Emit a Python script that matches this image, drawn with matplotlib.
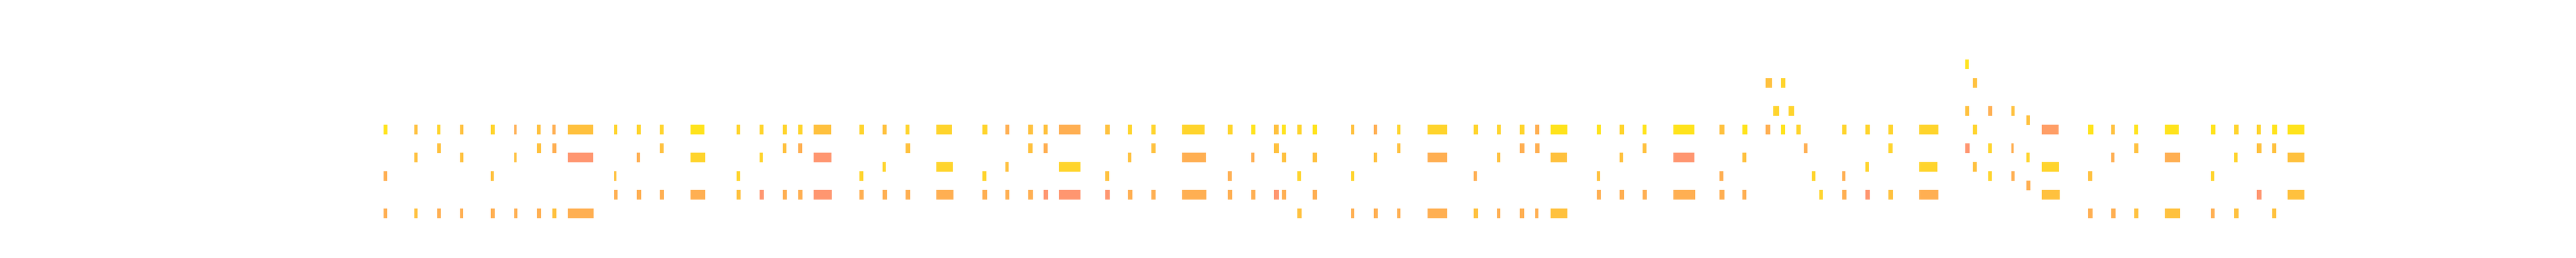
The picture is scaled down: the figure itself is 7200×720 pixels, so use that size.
import matplotlib
matplotlib.use("Agg")
import matplotlib.pyplot as plt
from matplotlib.colors import LinearSegmentedColormap, Normalize

# Piano-roll data: onset (in 16th-note steps), chord pitches (MIDI), durations (steps), velocities
onsets = [0, 4, 7, 10, 14, 17, 20, 22, 24, 30, 33, 36, 40, 46, 49, 52, 54, 56, 62, 65, 68,
          72, 78, 81, 84, 86, 88, 94, 97, 100, 104, 110, 113, 116, 117, 119, 121, 126, 129,
          132, 136, 142, 145, 148, 150, 152, 158, 161, 164, 168, 174, 177, 180, 181, 182,
          183, 184, 185, 186, 187, 190, 193, 196, 200, 206, 207, 209, 212, 214, 216, 222,
          225, 228, 232, 238, 241, 244, 246, 248]

chord_pitches = [
    [69, 64, 60], [69, 66, 60], [69, 67, 60], [69, 66, 60], [69, 64, 60], [69, 66, 60],
    [69, 67, 60], [69, 67, 60], [69, 66, 60], [69, 64, 62], [69, 66, 62], [69, 67, 62],
    [69, 66, 62], [69, 64, 62], [69, 66, 62], [69, 67, 62], [69, 67, 62], [69, 66, 62],
    [69, 64, 62], [69, 65, 62], [69, 67, 62], [69, 65, 62], [69, 64, 62], [69, 65, 62],
    [69, 67, 62], [69, 67, 62], [69, 65, 62], [69, 64, 62], [69, 66, 62], [69, 67, 62],
    [69, 66, 62], [69, 64, 62], [69, 66, 62], [69, 67, 62], [69, 66, 62], [69, 64, 60],
    [69, 66, 62], [69, 64, 60], [69, 66, 60], [69, 67, 60], [69, 66, 60], [69, 64, 60],
    [69, 66, 60], [69, 67, 60], [69, 67, 60], [69, 66, 60], [69, 64, 62], [69, 66, 62],
    [69, 67, 62], [69, 66, 62], [69, 64, 62], [69, 66, 62], [74, 69], [71], [74, 69],
    [71], [69], [67], [64], [62], [69, 64, 62], [69, 65, 62], [69, 67, 62], [69, 65, 62],
    [76, 71, 67], [74, 69, 65], [71, 67, 64], [71, 67, 64], [70, 66, 63], [69, 65, 62],
    [69, 64, 60], [69, 66, 60], [69, 67, 60], [69, 66, 60], [69, 64, 60], [69, 66, 60],
    [69, 67, 62], [69, 67, 60], [69, 66, 62],
]

chord_durations = [
    [.51, .46, .46], [.42, .42, .46], [.42, .46, .46], [.42, .42, .37], [.49, .37, .49],
    [.37, .37, .46], [.46, .51, .51], [.42, .51, .51], [3.34, 3.34, 3.38], [.46, .37, .51],
    [.51, .42, .56], [.49, .49, .53], [1.83, 1.88, 1.88], [.46, .46, .51], [.51, .42, .56],
    [.51, .46, .51], [.58, .53, .58], [2.32, 2.36, 2.41], [.60, .51, .56], [.51, .42, .56],
    [.53, .58, .58], [2.04, 2.13, 2.23], [.65, .51, .60], [.51, .42, .51], [.60, .56, .60],
    [.51, .51, .56], [2.80, 2.80, 2.80], [.58, .49, .58], [.51, .42, .56], [.56, .56, .56],
    [2.97, 3.13, 3.17], [.60, .51, .56], [.56, .42, .56], [.58, .63, .63], [.51, .56, .56],
    [.60, .51, .56], [.56, .56, .56], [.42, .42, .42], [.42, .42, .51], [.46, .46, .46],
    [2.55, 2.55, 2.55], [.53, .42, .53], [.51, .42, .46], [.60, .60, .56], [.51, .56, .42],
    [2.18, 2.13, 2.18], [.60, .42, .56], [.56, .46, .56], [.51, .51, .56], [2.76, 2.76, 2.85],
    [.67, .53, .63], [.65, .51, .51], [.83, .60], [.79], [.58, .51], [.74], [.60], [.46],
    [.51], [.46], [.56, .42, .56], [.56, .46, .56], [.58, .53, .58], [2.53, 2.39, 2.53],
    [.46, .51, .56], [.56, .56, .51], [.51, .46, .46], [.46, .32, .46], [.46, .42, .51],
    [2.16, 2.20, 2.29], [.67, .53, .58], [.51, .42, .56], [.51, .56, .56], [1.81, 1.95, 1.99],
    [.60, .46, .51], [.60, .46, .60], [.51, .60, .60], [.65, .51, .51], [2.16, 2.20, 2.16],
]

chord_velocities = [
    [98, 62, 62], [74, 74, 74], [86, 74, 62], [74, 74, 62], [86, 74, 62], [62, 74, 62],
    [74, 74, 62], [62, 62, 74], [74, 50, 62], [86, 74, 62], [86, 62, 62], [86, 74, 62],
    [98, 86, 62], [86, 86, 74], [86, 86, 50], [86, 74, 62], [86, 62, 62], [74, 50, 50],
    [86, 86, 62], [74, 86, 62], [86, 74, 62], [86, 86, 62], [86, 86, 62], [62, 74, 62],
    [74, 74, 62], [74, 62, 50], [62, 86, 50], [74, 74, 50], [86, 74, 62], [86, 74, 62],
    [86, 62, 62], [86, 62, 62], [98, 62, 62], [74, 74, 50], [98, 74, 62], [86, 86, 74],
    [98, 74, 62], [74, 86, 62], [62, 74, 62], [86, 74, 62], [86, 62, 62], [86, 62, 74],
    [86, 74, 62], [86, 62, 62], [62, 62, 62], [98, 74, 74], [98, 74, 62], [86, 74, 62],
    [98, 74, 62], [98, 50, 62], [74, 62, 62], [98, 74, 62], [74, 62], [86], [86, 98],
    [86], [86], [62], [86], [86], [86, 62, 62], [86, 86, 50], [86, 86, 74], [86, 86, 62],
    [98, 74, 50], [74, 86, 74], [62, 86, 86], [74, 62, 62], [74, 86, 62], [54, 86, 74],
    [98, 74, 62], [74, 62, 62], [98, 74, 74], [98, 62, 74], [98, 86, 62], [86, 86, 74],
    [86, 74, 50], [98, 74, 74], [98, 74, 74],
]

# flatten
starts, pitches, durs, vels = [], [], [], []
for t, ps, ds, vs in zip(onsets, chord_pitches, chord_durations, chord_velocities):
    for p, d, v in zip(ps, ds, vs):
        starts.append(t)
        pitches.append(p)
        durs.append(d)
        vels.append(v)

cmap = LinearSegmentedColormap.from_list(
    "vel", ["#FF9670", "#FFAF52", "#FFC13E", "#FFD42C", "#FFE31C"])
norm = Normalize(vmin=50, vmax=98)

fig = plt.figure(figsize=(72, 7.2), dpi=100)
ax = fig.add_axes([0.125, 0.11, 0.775, 0.77])
ax.barh(pitches, durs, left=starts, height=1.04,
        color=[cmap(norm(v)) for v in vels], linewidth=0)
ax.set_xlim(-8, 252)
ax.set_ylim(58.26, 79.58)
ax.axis("off")
fig.savefig("out.png", dpi=100, facecolor="white")
